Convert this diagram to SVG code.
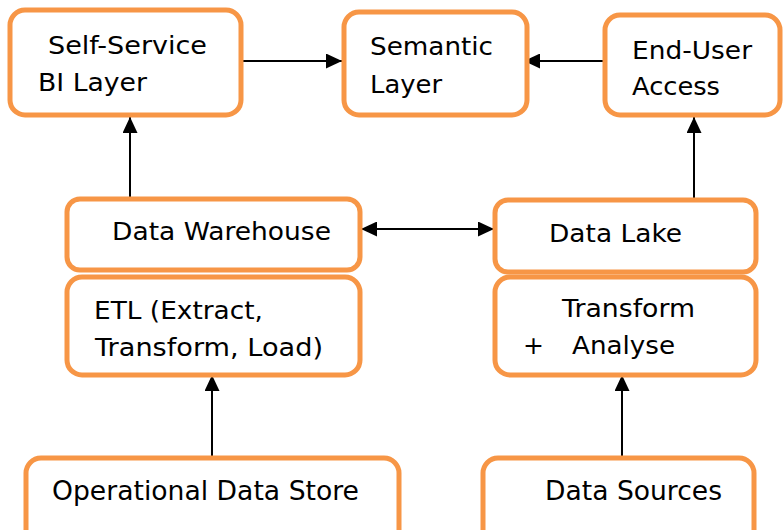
<svg xmlns="http://www.w3.org/2000/svg" width="784" height="530" viewBox="0 0 784 530">
<defs>
<style>
.box{fill:#fff;stroke:#F79646;stroke-width:5}
.t{font-family:"DejaVu Sans","Verdana",sans-serif;font-size:25px;fill:#000}
.b{font-size:26px}
.c{stroke:#000;stroke-width:2;fill:none}
</style>
<marker id="ah" markerUnits="userSpaceOnUse" markerWidth="17" markerHeight="15" refX="16" refY="7.5" orient="auto-start-reverse">
<path d="M0,0 L16,7.5 L0,15 z" fill="#000"/>
</marker>
</defs>
<rect width="784" height="530" fill="#fff"/>
<g id="connectors">
<path class="c" d="M242,61 H342" marker-end="url(#ah)"/>
<path class="c" d="M604,61 H524" marker-end="url(#ah)"/>
<path class="c" d="M130,197 V117" marker-end="url(#ah)"/>
<path class="c" d="M694,198 V117" marker-end="url(#ah)"/>
<path class="c" d="M361,229 H494" marker-start="url(#ah)" marker-end="url(#ah)"/>
<path class="c" d="M212,456 V375" marker-end="url(#ah)"/>
<path class="c" d="M622,456 V375" marker-end="url(#ah)"/>
</g>
<g id="self-service">
<rect class="box" x="10" y="10" width="231" height="105" rx="15"/>
<text class="t" x="48" y="54" textLength="159" lengthAdjust="spacingAndGlyphs">Self-Service</text>
<text class="t" x="38" y="91" textLength="109" lengthAdjust="spacingAndGlyphs">BI Layer</text>
</g>
<g id="semantic">
<rect class="box" x="344" y="12" width="183" height="103" rx="15"/>
<text class="t" x="370" y="55" textLength="123" lengthAdjust="spacingAndGlyphs">Semantic</text>
<text class="t" x="370" y="93" textLength="72" lengthAdjust="spacingAndGlyphs">Layer</text>
</g>
<g id="end-user">
<rect class="box" x="605" y="15" width="175" height="100" rx="15"/>
<text class="t" x="632" y="59" textLength="120" lengthAdjust="spacingAndGlyphs">End-User</text>
<text class="t" x="632" y="95" textLength="88" lengthAdjust="spacingAndGlyphs">Access</text>
</g>
<g id="data-warehouse">
<rect class="box" x="67" y="199" width="293" height="71" rx="13"/>
<text class="t" x="112" y="240" textLength="219" lengthAdjust="spacingAndGlyphs">Data Warehouse</text>
</g>
<g id="etl">
<rect class="box" x="67" y="277" width="293" height="98" rx="15"/>
<text class="t" x="94" y="319" textLength="169" lengthAdjust="spacingAndGlyphs">ETL (Extract,</text>
<text class="t" x="95" y="356" textLength="228" lengthAdjust="spacingAndGlyphs">Transform, Load)</text>
</g>
<g id="data-lake">
<rect class="box" x="495" y="200" width="261" height="72" rx="13"/>
<text class="t" x="549" y="242" textLength="133" lengthAdjust="spacingAndGlyphs">Data Lake</text>
</g>
<g id="transform">
<rect class="box" x="495" y="277" width="261" height="98" rx="15"/>
<text class="t" x="562" y="317" textLength="133" lengthAdjust="spacingAndGlyphs">Transform</text>
<text class="t" x="523" y="354">+</text>
<text class="t" x="572" y="354" textLength="103" lengthAdjust="spacingAndGlyphs">Analyse</text>
</g>
<g id="ods">
<rect class="box" x="26" y="458" width="373" height="90" rx="15"/>
<text class="t b" x="52" y="500" textLength="307" lengthAdjust="spacingAndGlyphs">Operational Data Store</text>
</g>
<g id="data-sources">
<rect class="box" x="483" y="458" width="271" height="90" rx="15"/>
<text class="t b" x="545" y="500" textLength="177" lengthAdjust="spacingAndGlyphs">Data Sources</text>
</g>
</svg>
